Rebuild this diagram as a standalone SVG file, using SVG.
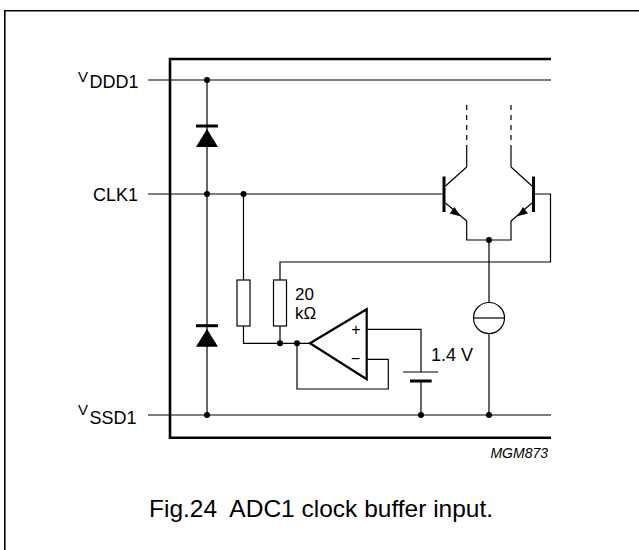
<svg xmlns="http://www.w3.org/2000/svg" width="639" height="550" viewBox="0 0 639 550">
<style>
  .w{fill:none;stroke:#000;stroke-width:1.2}
  .thick{fill:none;stroke:#000;stroke-width:2.6}
  .bar{fill:none;stroke:#000;stroke-width:3}
  .dot{fill:#000}
  .t{font-family:"Liberation Sans",Arial,sans-serif;fill:#000}
</style>
<rect width="639" height="550" fill="#fff"/>
<g id="frame">
  <path class="w" d="M4.8 550 V10.8 H639" style="stroke-width:1.6"/>
  <path class="thick" d="M551 59 H170 V437.7 H551"/>
</g>
<g id="connectors">
  <path class="w" d="M148 80 H551"/>
  <path class="w" d="M148 194 H442.5"/>
  <path class="w" d="M148 415 H551"/>
  <path class="w" d="M207 80 V415"/>
  <path class="w" d="M243.5 194 V280 M243.5 326 V343.3 H310"/>
  <path class="w" d="M280 280 V262 H550.5 V194 H535"/>
  <path class="w" d="M280 326 V343.3"/>
  <path class="w" d="M297 343.3 V389 H388.3 V359.3 H366.7"/>
  <path class="w" d="M366.7 329.3 H421 V372 M421 381 V415"/>
  <path class="w" d="M466.7 221 V240 H511 V221 M489 240 V302.5 M489 333.5 V415"/>
  <path class="w" d="M466.7 167 V150 M511 167 V150"/>
  <path class="w" d="M466.7 150 V104 M511 150 V104" style="stroke-dasharray:5 5"/>
</g>
<g id="diode_upper">
  <path class="bar" d="M196 126 H218"/>
  <path class="dot" d="M207 129 L218 147 H196 Z"/>
</g>
<g id="diode_lower">
  <path class="bar" d="M196 325.7 H218"/>
  <path class="dot" d="M207 329 L218 346.7 H196 Z"/>
</g>
<g id="resistor1"><rect class="w" x="237" y="280" width="13" height="46"/></g>
<g id="resistor2"><rect class="w" x="273.5" y="280" width="13" height="46"/>
  <text class="t" x="295" y="300" font-size="17">20</text>
  <text class="t" x="295" y="319" font-size="17">kΩ</text>
</g>
<g id="opamp">
  <path fill="none" stroke="#000" stroke-width="2.2" d="M310 343.3 L366.7 309.3 V379.3 Z"/>
  <text class="t" x="356" y="335" font-size="16" text-anchor="middle">+</text>
  <text class="t" x="355.5" y="364" font-size="16" text-anchor="middle">−</text>
</g>
<g id="battery">
  <path class="w" d="M403 372 H438"/>
  <path class="bar" d="M410 381 H431.7"/>
  <text class="t" x="431" y="361" font-size="18">1.4 V</text>
</g>
<g id="current_source">
  <circle class="w" cx="489" cy="318" r="15.5"/>
  <path class="w" d="M473.5 318 H504.5"/>
</g>
<g id="transistor_left">
  <path class="bar" d="M444 176.5 V212"/>
  <path class="w" d="M445.5 186 L466.7 167 M445.5 203 L466.7 221"/>
  <path class="dot" d="M460.5 216.3 L449.6 213.4 L454.5 207 Z"/>
</g>
<g id="transistor_right">
  <path class="bar" d="M533.5 176.5 V212"/>
  <path class="w" d="M532 186 L511 167 M532 203 L511 221"/>
  <path class="dot" d="M517.2 216.3 L523 207 L528 213.4 Z"/>
</g>
<g id="junctions">
  <circle class="dot" cx="207" cy="80" r="3"/>
  <circle class="dot" cx="207" cy="194" r="3"/>
  <circle class="dot" cx="243.5" cy="194" r="3"/>
  <circle class="dot" cx="207" cy="415" r="3"/>
  <circle class="dot" cx="421" cy="415" r="3"/>
  <circle class="dot" cx="489" cy="415" r="3"/>
  <circle class="dot" cx="489" cy="240" r="3"/>
  <circle class="dot" cx="280" cy="343.3" r="3"/>
  <circle class="dot" cx="297" cy="343.3" r="3"/>
</g>
<g id="labels">
  <text class="t" x="78" y="81.5" font-size="15">V<tspan font-size="18" dx="1.5" dy="6">DDD1</tspan></text>
  <text class="t" x="138" y="200.5" font-size="18" text-anchor="end">CLK1</text>
  <text class="t" x="78" y="415" font-size="15">V<tspan font-size="18" dx="1.5" dy="9">SSD1</tspan></text>
  <text class="t" x="548" y="458" font-size="14" font-style="italic" text-anchor="end">MGM873</text>
  <text class="t" x="149" y="517" font-size="24.5" xml:space="preserve">Fig.24  ADC1 clock buffer input.</text>
</g>
</svg>
